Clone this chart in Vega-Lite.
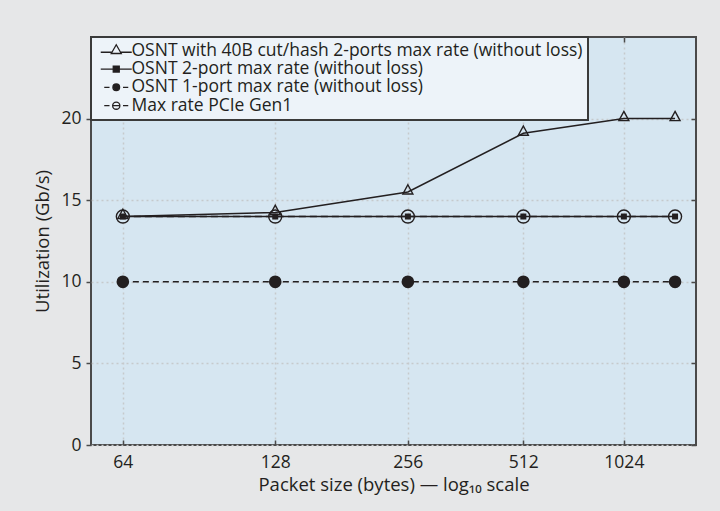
{
  "$schema": "https://vega.github.io/schema/vega-lite/v6.json",
  "autosize": {"type": "none"},
  "width": 605,
  "height": 408,
  "padding": {"left": 91, "top": 37, "right": 24, "bottom": 66},
  "background": "#e6e7e8",
  "config": {
    "font": "Open Sans",
    "view": {"stroke": "#4a4a4a", "strokeWidth": 2, "fill": "#d6e6f1"},
    "axis": {"labelFont": "Open Sans", "titleFont": "Open Sans", "labelColor": "#231f20", "titleColor": "#231f20", "labelFontSize": 17.5, "titleFontSize": 18.5, "titleFontWeight": "normal", "labelFontWeight": "normal", "domain": false, "tickColor": "#4a4a4a", "tickWidth": 1.5, "gridColor": "#c6c9cc", "gridDash": [2, 3], "gridWidth": 1.5}
  },
  "data": {"values": [
    {"size": 64, "series": "OSNT with 40B cut/hash 2-ports max rate (without loss)", "value": 14.0},
    {"size": 128, "series": "OSNT with 40B cut/hash 2-ports max rate (without loss)", "value": 14.25},
    {"size": 256, "series": "OSNT with 40B cut/hash 2-ports max rate (without loss)", "value": 15.5},
    {"size": 512, "series": "OSNT with 40B cut/hash 2-ports max rate (without loss)", "value": 19.1},
    {"size": 1024, "series": "OSNT with 40B cut/hash 2-ports max rate (without loss)", "value": 20.0},
    {"size": 1518, "series": "OSNT with 40B cut/hash 2-ports max rate (without loss)", "value": 20.0},
    {"size": 64, "series": "OSNT 2-port max rate (without loss)", "value": 14.0},
    {"size": 128, "series": "OSNT 2-port max rate (without loss)", "value": 14.0},
    {"size": 256, "series": "OSNT 2-port max rate (without loss)", "value": 14.0},
    {"size": 512, "series": "OSNT 2-port max rate (without loss)", "value": 14.0},
    {"size": 1024, "series": "OSNT 2-port max rate (without loss)", "value": 14.0},
    {"size": 1518, "series": "OSNT 2-port max rate (without loss)", "value": 14.0},
    {"size": 64, "series": "OSNT 1-port max rate (without loss)", "value": 10.0},
    {"size": 128, "series": "OSNT 1-port max rate (without loss)", "value": 10.0},
    {"size": 256, "series": "OSNT 1-port max rate (without loss)", "value": 10.0},
    {"size": 512, "series": "OSNT 1-port max rate (without loss)", "value": 10.0},
    {"size": 1024, "series": "OSNT 1-port max rate (without loss)", "value": 10.0},
    {"size": 1518, "series": "OSNT 1-port max rate (without loss)", "value": 10.0},
    {"size": 64, "series": "Max rate PCIe Gen1", "value": 14.0},
    {"size": 128, "series": "Max rate PCIe Gen1", "value": 14.0},
    {"size": 256, "series": "Max rate PCIe Gen1", "value": 14.0},
    {"size": 512, "series": "Max rate PCIe Gen1", "value": 14.0},
    {"size": 1024, "series": "Max rate PCIe Gen1", "value": 14.0},
    {"size": 1518, "series": "Max rate PCIe Gen1", "value": 14.0}
  ]},
  "layer": [
    {
      "encoding": {
        "x": {"field": "size", "type": "quantitative",
          "scale": {"type": "pow", "exponent": -0.2, "domain": [56, 1800], "nice": false, "zero": false},
          "axis": {"values": [64, 128, 256, 512, 1024], "format": "d", "grid": true, "tickSize": -5, "labelPadding": 13, "title": "Packet size (bytes) — log₁₀ scale", "titlePadding": 5}},
        "y": {"field": "value", "type": "quantitative",
          "scale": {"domain": [0, 25], "nice": false, "zero": true},
          "axis": {"values": [0, 5, 10, 15, 20], "grid": true, "tickSize": 5, "labelPadding": 5, "title": "Utilization (Gb/s)", "titlePadding": 8}}
      },
      "layer": [
        {"transform": [{"filter": {"field": "series", "equal": "Max rate PCIe Gen1"}}],
         "mark": {"type": "line", "color": "#231f20", "strokeWidth": 1.5, "strokeDash": [7, 4]}},
        {"transform": [{"filter": {"field": "series", "equal": "OSNT 2-port max rate (without loss)"}}],
         "mark": {"type": "line", "color": "#231f20", "strokeWidth": 1.5}},
        {"transform": [{"filter": {"field": "series", "equal": "OSNT with 40B cut/hash 2-ports max rate (without loss)"}}],
         "mark": {"type": "line", "color": "#231f20", "strokeWidth": 1.5}},
        {"transform": [{"filter": {"field": "series", "equal": "OSNT 1-port max rate (without loss)"}}],
         "mark": {"type": "line", "color": "#231f20", "strokeWidth": 1.5, "strokeDash": [6, 4]}},
        {"transform": [{"filter": {"field": "series", "equal": "Max rate PCIe Gen1"}}],
         "mark": {"type": "point", "shape": "circle", "size": 170, "filled": false, "stroke": "#231f20", "strokeWidth": 1.4, "opacity": 1}},
        {"transform": [{"filter": {"field": "series", "equal": "OSNT 2-port max rate (without loss)"}}],
         "mark": {"type": "point", "shape": "square", "size": 36, "filled": true, "fill": "#231f20", "opacity": 1}},
        {"transform": [{"filter": {"field": "series", "equal": "OSNT with 40B cut/hash 2-ports max rate (without loss)"}}],
         "mark": {"type": "point", "shape": "M0,-1.45L1,0.4L-1,0.4Z", "size": 100, "filled": false, "stroke": "#231f20", "strokeWidth": 1.4, "opacity": 1}},
        {"transform": [{"filter": {"field": "series", "equal": "OSNT 1-port max rate (without loss)"}}],
         "mark": {"type": "point", "shape": "circle", "size": 160, "filled": true, "fill": "#231f20", "opacity": 1}}
      ]
    },
    {"mark": {"type": "point", "opacity": 0, "size": 100, "strokeWidth": 1.3, "stroke": "#231f20"},
     "encoding": {
       "x": {"field": "size", "type": "quantitative",
         "scale": {"type": "pow", "exponent": -0.2, "domain": [56, 1800], "nice": false, "zero": false},
         "axis": {"orient": "top", "values": [64, 128, 256, 512, 1024], "labels": false, "title": null, "grid": false, "tickSize": -5}},
       "y": {"field": "value", "type": "quantitative",
         "scale": {"domain": [0, 25], "nice": false, "zero": true},
         "axis": {"orient": "right", "values": [0, 5, 10, 15, 20], "labels": false, "title": null, "grid": false, "tickSize": -5}},
       "shape": {"field": "series", "type": "nominal",
         "scale": {"domain": ["OSNT with 40B cut/hash 2-ports max rate (without loss)", "OSNT 2-port max rate (without loss)", "OSNT 1-port max rate (without loss)", "Max rate PCIe Gen1"],
                   "range": ["M-3.1,0.3H-0.86M0.86,0.3H3.1M0,-1.2L1,0.55L-1,0.55Z", "M-3.1,0H3.1M-0.6,-0.6H0.6V0.6H-0.6Z", "M-2.4,0H-1.35M1.35,0H2.4M-0.67,0A0.67,0.67,0,1,0,0.67,0A0.67,0.67,0,1,0,-0.67,0Z", "M-2.4,0H-1.35M1.35,0H2.4M-0.72,0H0.72M-0.72,0A0.72,0.72,0,1,0,0.72,0A0.72,0.72,0,1,0,-0.72,0Z"]},
         "legend": {"title": null, "orient": "top-left", "offset": 0, "padding": 5, "symbolOffset": 11.5, "labelOffset": 6.5, "symbolSize": 100, "symbolOpacity": 1, "symbolStrokeColor": "#231f20", "symbolStrokeWidth": 1.3, "labelFont": "Open Sans", "labelFontSize": 17.5, "labelColor": "#231f20", "labelLimit": 700, "rowPadding": -0.7, "fillColor": "#edf3f9", "strokeColor": "#3a3a3a",
           "encode": {"legend": {"update": {"strokeWidth": {"value": 2}}}}}},
       "fill": {"field": "series", "type": "nominal",
         "scale": {"domain": ["OSNT with 40B cut/hash 2-ports max rate (without loss)", "OSNT 2-port max rate (without loss)", "OSNT 1-port max rate (without loss)", "Max rate PCIe Gen1"],
                   "range": ["transparent", "#231f20", "#231f20", "transparent"]},
         "legend": {"title": null, "orient": "top-left", "offset": 0, "padding": 5, "symbolOffset": 11.5, "labelOffset": 6.5, "symbolSize": 100, "symbolOpacity": 1, "symbolStrokeColor": "#231f20", "symbolStrokeWidth": 1.3, "labelFont": "Open Sans", "labelFontSize": 17.5, "labelColor": "#231f20", "labelLimit": 700, "rowPadding": -0.7, "fillColor": "#edf3f9", "strokeColor": "#3a3a3a",
           "encode": {"legend": {"update": {"strokeWidth": {"value": 2}}}}}}
     }}
  ],
  "resolve": {"axis": {"x": "independent", "y": "independent"}}
}
